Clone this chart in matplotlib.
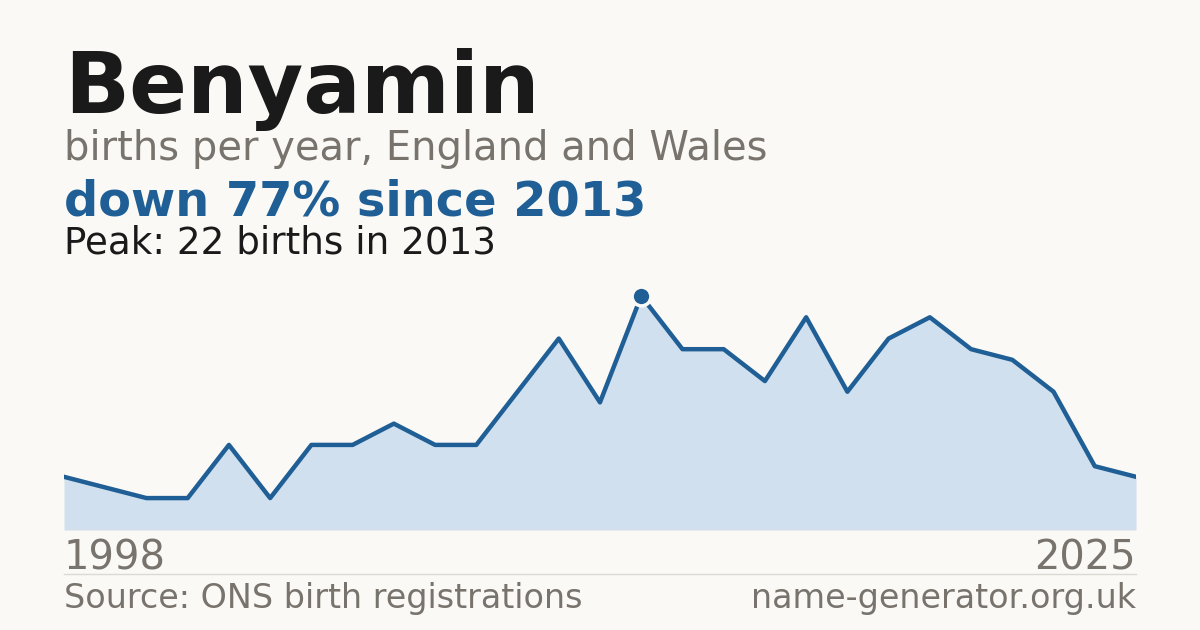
import matplotlib
matplotlib.use("Agg")
import matplotlib.pyplot as plt
import numpy as np

# data (1999 has no registered value in the source series)
years = [1998] + list(range(2000, 2026))
births = [5, 4, 3, 3, 8, 3, 8, 8, 10, 8, 8, 13, 18, 12, 22,
          17, 17, 14, 20, 13, 18, 20, 17, 16, 13, 6, 5]

name = "Benyamin"
subtitle = "births per year, England and Wales"
source = "Source: ONS birth registrations"
site = "name-generator.org.uk"

BG = "#faf9f5"
BLUE = "#1f5f96"
FILL = "#d0e0ef"
GREY = "#78736c"
DARK = "#1a1a1a"

W, H = 1200, 630
fig = plt.figure(figsize=(W / 100, H / 100), dpi=100, facecolor=BG)
plt.rcParams["font.family"] = ["DejaVu Sans"]


def px(x, y):
    return x / W, 1 - y / H


ax = fig.add_axes([64 / W, 100 / H, 1072 / W, 234 / H])
ax.set_facecolor(BG)
x = np.arange(len(births))
ax.fill_between(x, births, 0, color=FILL, lw=0)
ax.plot(x, births, color=BLUE, lw=3.2, solid_joinstyle="round")
ax.axhline(0, color="#dcdcdc", lw=1)

peak_i = int(np.argmax(births))
ax.plot(x[peak_i], births[peak_i], "o", ms=13.5, mfc=BLUE, mec=BG,
        mew=2.5, clip_on=False, zorder=5)
ax.set_xlim(0, len(births) - 1)
ax.set_ylim(0, max(births))
ax.axis("off")

drop = round((births[peak_i] - births[-1]) / births[peak_i] * 100)

fig.text(*px(64, 113), name, fontsize=61.5, fontweight="bold", color=DARK, va="baseline")
fig.text(*px(64, 160), subtitle, fontsize=28.8, color=GREY, va="baseline")
fig.text(*px(64, 215), f"down {drop}% since {years[peak_i]}", fontsize=34.5,
         fontweight="bold", color=BLUE, va="baseline")
fig.text(*px(64, 253), f"Peak: {births[peak_i]} births in {years[peak_i]}",
         fontsize=26.8, color=DARK, va="baseline")

fig.text(*px(64, 569), str(years[0]), fontsize=28.8, color=GREY, va="baseline")
fig.text(*px(1136, 569), str(years[-1]), fontsize=28.8, color=GREY, va="baseline", ha="right")
fig.add_artist(plt.Line2D([64 / W, 1136 / W], [1 - 574 / H] * 2, color="#dddad3", lw=1))
fig.text(*px(64, 608), source, fontsize=24, color=GREY, va="baseline")
fig.text(*px(1136, 608), site, fontsize=24, color=GREY, va="baseline", ha="right")

fig.savefig("out.png", dpi=100, facecolor=BG)
